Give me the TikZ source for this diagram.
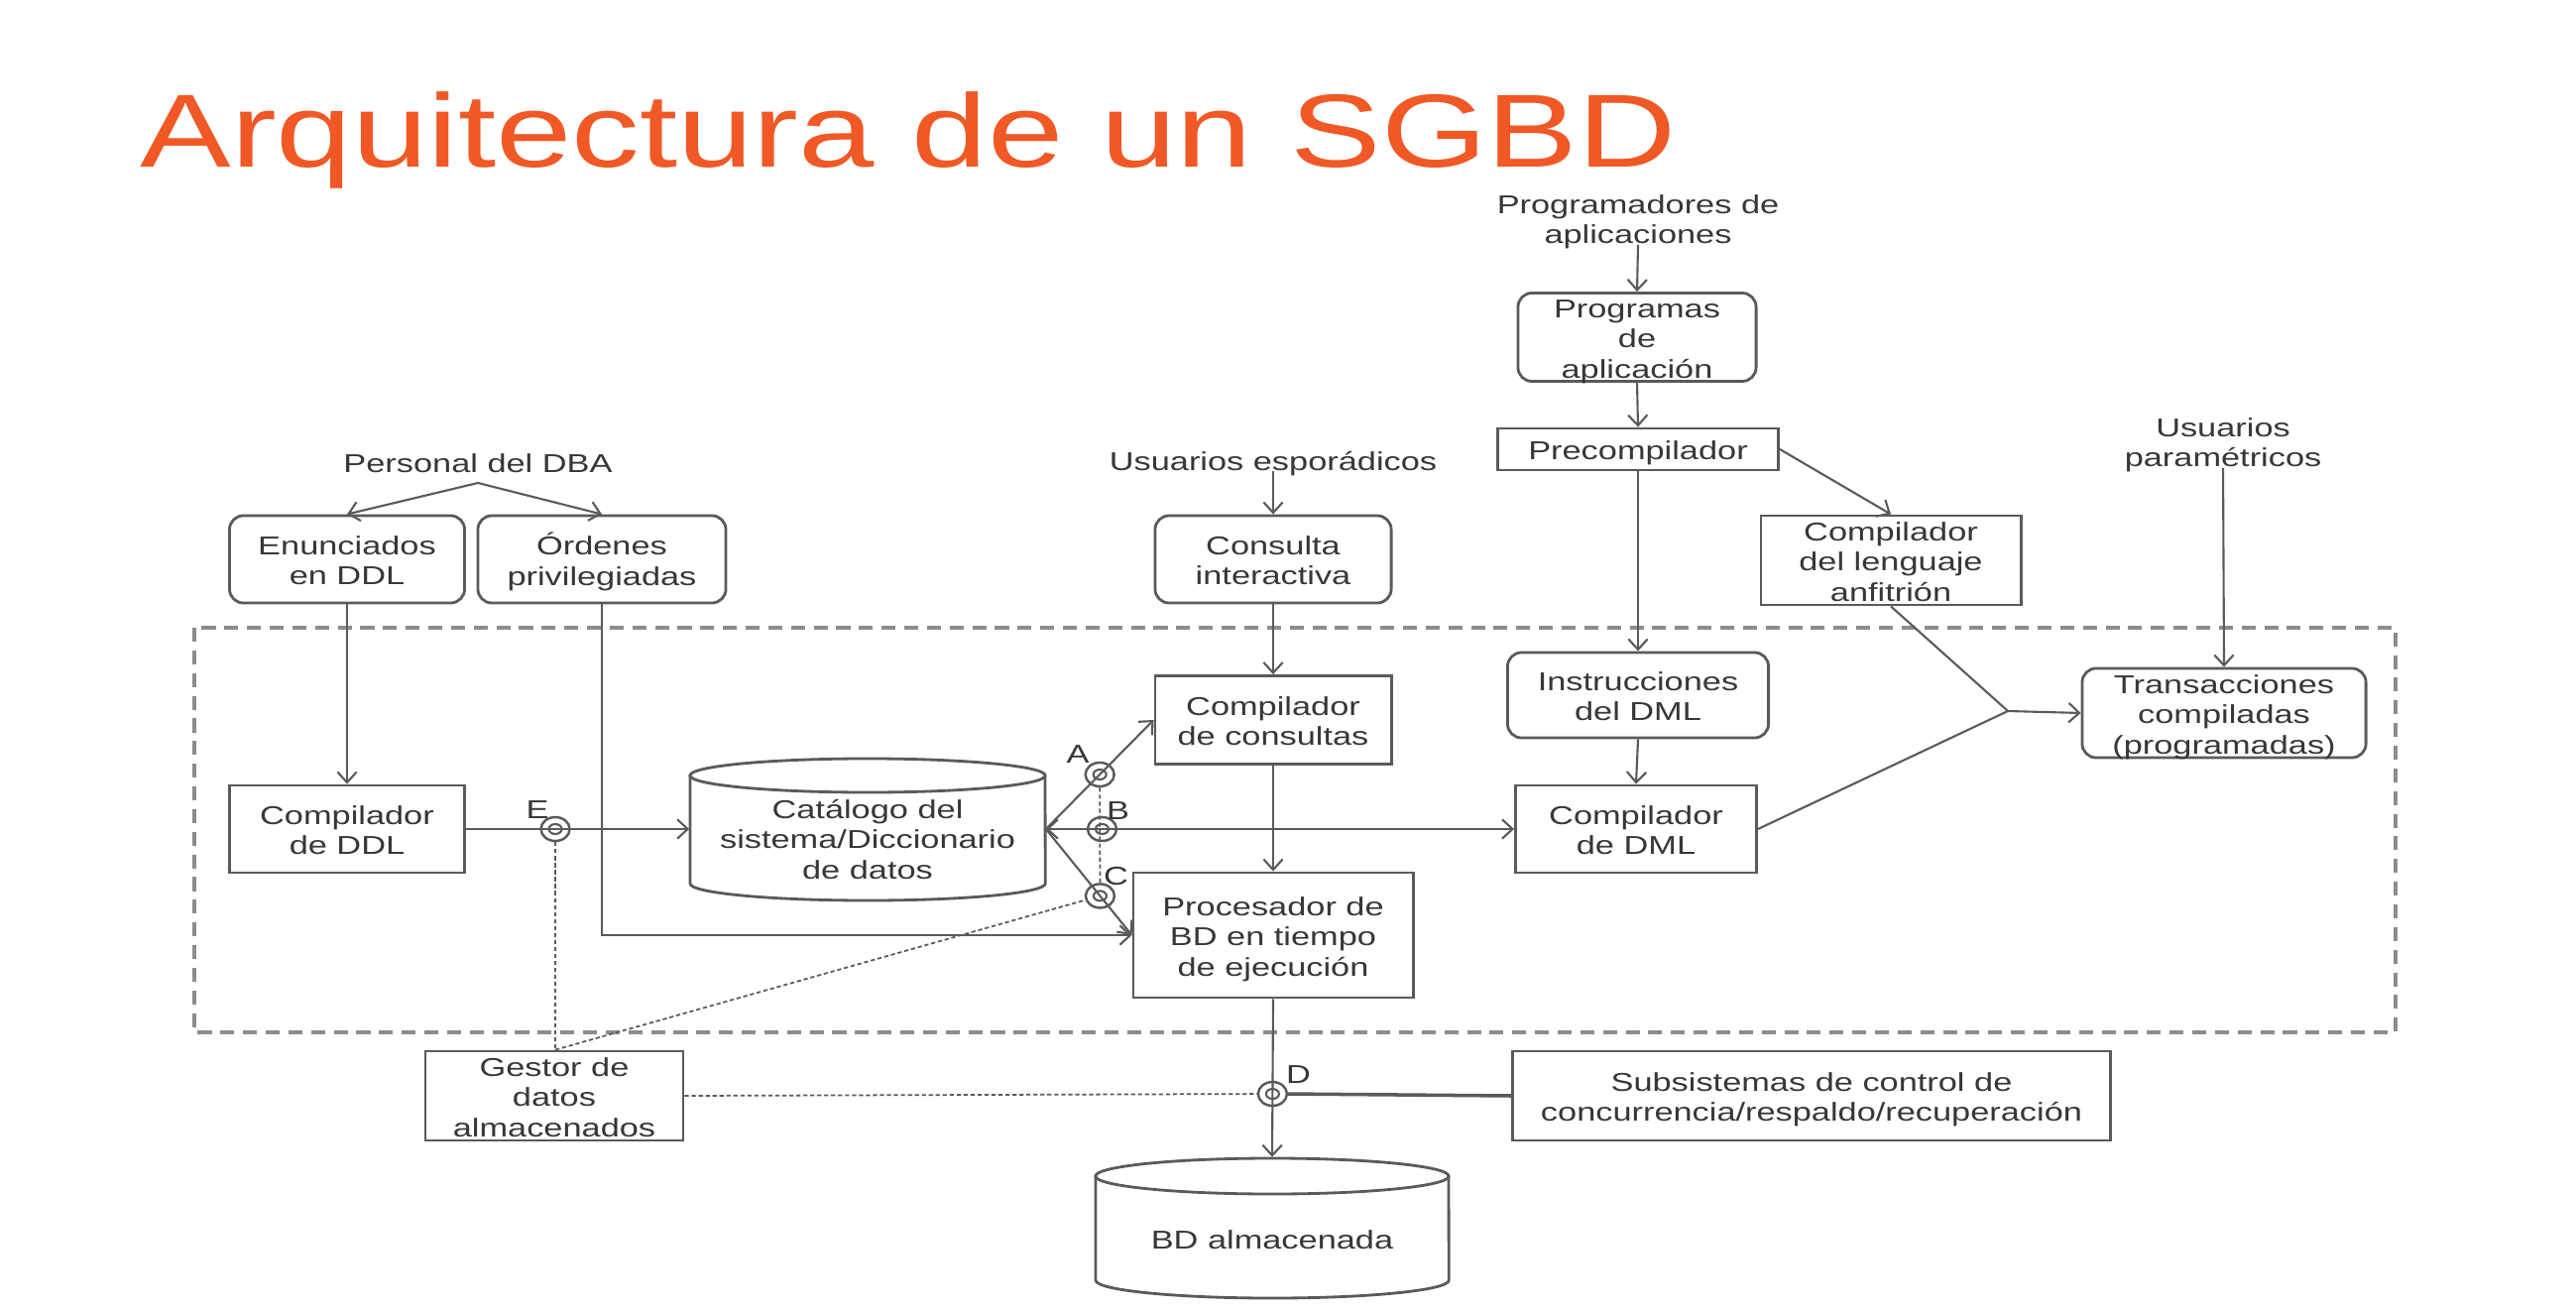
\documentclass[tikz,border=0pt]{standalone}
\usepackage{fontspec}
\setmainfont{Liberation Sans}
\usepackage{graphicx}
\usetikzlibrary{arrows.meta,shapes.geometric,calc}
\definecolor{titlecol}{RGB}{240,88,38}
\definecolor{txtc}{RGB}{55,55,55}
\definecolor{linec}{RGB}{90,90,90}
\definecolor{dashc}{RGB}{140,140,140}
\newcommand\tx[1]{\raisebox{0pt}[\height][\dimexpr\depth-0.09cm\relax]{\scalebox{1.32}[1]{\begin{tabular}{@{}c@{}}#1\end{tabular}}}}
\tikzset{
  every node/.style={font=\fontsize{7.4}{8.7}\selectfont, text=txtc, inner sep=0pt},
  box/.style={draw=linec, line width=0.8pt, rectangle},
  rbox/.style={box, rounded corners=4pt},
  tip/.tip={Straight Barb[length=3pt,width=5.5pt]},
  arr/.style={draw=linec, line width=0.6pt, -tip},
  arrb/.style={draw=linec, line width=0.6pt, tip-tip},
  ln/.style={draw=linec, line width=0.6pt},
  dotl/.style={draw=linec, line width=0.5pt, dash pattern=on 1.2pt off 0.8pt},
  ring/.style={ellipse, draw=linec, line width=0.7pt, minimum width=0.29cm, minimum height=0.24cm},
  cylline/.style={draw=linec, line width=0.8pt},
}
\begin{document}
\begin{tikzpicture}[x=0.01cm,y=-0.01cm]
\useasboundingbox[fill=white] (0,0) rectangle (2598,1322);

% title
\node[anchor=base west, font=\fontsize{29.8}{32}\selectfont, text=titlecol] (title) at (141,169) {\scalebox{1.31}[1]{Arquitectura de un SGBD}};

% dashed frame
\draw[dashc, line width=0.9pt, dash pattern=on 4pt off 2.5pt] (196,633) rectangle (2416,1041);

% nodes
\node (pu) at (1652,220) {\tx{Programadores de\\aplicaciones}};
\node[rbox, minimum width=2.40cm, minimum height=0.89cm] (pa) at (1651,340) {\tx{Programas\\de\\aplicación}};
\node[box, minimum width=2.83cm, minimum height=0.42cm] (pre) at (1652,453) {\tx{Precompilador}};
\node[box, minimum width=2.62cm, minimum height=0.90cm] (cl) at (1907,565) {\tx{Compilador\\del lenguaje\\anfitrión}};
\node (up) at (2242,445) {\tx{Usuarios\\paramétricos}};
\node[rbox, minimum width=2.86cm, minimum height=0.90cm] (tr) at (2243,719) {\tx{Transacciones\\compiladas\\(programadas)}};
\node[rbox, minimum width=2.63cm, minimum height=0.86cm] (ins) at (1652,701) {\tx{Instrucciones\\del DML}};
\node[box, minimum width=2.43cm, minimum height=0.88cm] (dml) at (1650,836) {\tx{Compilador\\de DML}};
\node (ue) at (1284,464) {\tx{Usuarios esporádicos}};
\node[rbox, minimum width=2.38cm, minimum height=0.88cm] (ci) at (1284,564) {\tx{Consulta\\interactiva}};
\node[box, minimum width=2.38cm, minimum height=0.89cm] (cc) at (1284,726) {\tx{Compilador\\de consultas}};
\node[box, minimum width=2.82cm, minimum height=1.26cm] (proc) at (1284,943) {\tx{Procesador de\\BD en tiempo\\de ejecución}};
\node[minimum width=3.58cm, minimum height=1.43cm] (cat) at (875,836) {};
\node (catt) at (875,845) {\tx{Catálogo del\\sistema/Diccionario\\de datos}};
\node[box, minimum width=2.37cm, minimum height=0.88cm] (ddl) at (350,836) {\tx{Compilador\\de DDL}};
\node[rbox, minimum width=2.37cm, minimum height=0.88cm] (enu) at (350,564) {\tx{Enunciados\\en DDL}};
\node[rbox, minimum width=2.50cm, minimum height=0.88cm] (ord) at (607,564) {\tx{Órdenes\\privilegiadas}};
\node (pd) at (482,466) {\tx{Personal del DBA}};
\node[box, minimum width=2.60cm, minimum height=0.90cm] (gest) at (559,1105) {\tx{Gestor de\\datos\\almacenados}};
\node[box, minimum width=6.03cm, minimum height=0.90cm] (subs) at (1827,1105) {\tx{Subsistemas de control de\\concurrencia/respaldo/recuperación}};
\node[minimum width=3.56cm, minimum height=1.41cm] (bd) at (1283,1238) {};
\node (bdt) at (1283,1249) {\tx{BD almacenada}};

% cylinders
\draw[cylline] (696,782) -- (696,891) arc[start angle=180, end angle=360, x radius=1.79cm, y radius=0.17cm] -- (1054,782);
\draw[cylline] (875,782) ellipse [x radius=1.79cm, y radius=0.17cm];
\draw[cylline] (1105,1186) -- (1105,1291) arc[start angle=180, end angle=360, x radius=1.78cm, y radius=0.18cm] -- (1461,1186);
\draw[cylline] (1283,1186) ellipse [x radius=1.78cm, y radius=0.18cm];

% coordinates
\coordinate (ap) at (482,487);
\coordinate (J) at (2025,717);

% rings
\node[ring] (rE) at ($(ddl.east)!0.4!(cat.west)$) {};
\node[ring] (rA) at ($(cat.east)!0.5!(cc.west)$) {};
\node[ring] (rB) at ($(cat.east)!0.12!(dml.west)$) {};
\node[ring] (rC) at ($(cat.east)!0.63!(proc.west)$) {};
\node[ring] (rD) at ($(proc.south)!0.6!(bd.north)$) {};
\foreach \r in {rE,rA,rB,rC,rD}
  \draw[linec, line width=0.6pt] (\r) ellipse [x radius=0.065cm, y radius=0.05cm];

% ring labels
\node (lE) at ($(rE)+(-18,-21)$) {\tx{E}};
\node (lA) at ($(rA)+(-22,-22)$) {\tx{A}};
\node (lB) at ($(rB)+(16,-20)$) {\tx{B}};
\node (lC) at ($(rC)+(16,-22)$) {\tx{C}};
\node (lD) at ($(rD)+(26,-21)$) {\tx{D}};

% connectors
\draw[arr] (pu.south) -- (pa.north);
\draw[arr] (pa.south) -- (pre.north);
\draw[arr] (pre.south) -- (ins.north);
\draw[arr] (pre.east) -- (cl.north);
\draw[ln] (cl.south) -- (J);
\draw[ln] (dml.east) -- (J);
\draw[arr] (J) -- (tr.west);
\draw[arr] (up.south) -- (tr.north);
\draw[arr] (ins.south) -- (dml.north);
\draw[arr] (ue.south) -- (ci.north);
\draw[arr] (ci.south) -- (cc.north);
\draw[arr] (cc.south) -- (proc.north);
\draw[arr] (proc.south) -- (bd.north);
\draw[arrb] (cat.east) -- (dml.west);
\draw[arr] (cat.east) -- (cc.west);
\draw[arr] (cat.east) -- (proc.west);
\draw[arr] (ord.south) |- (proc.west);
\draw[arr] (enu.south) -- (ddl.north);
\draw[arr] (ddl.east) -- (cat.west);
\draw[arr] (ap) -- (enu.north);
\draw[arr] (ap) -- (ord.north);

% dotted links
\draw[dotl] (rE.south) -- (rE.south |- gest.north);
\draw[dotl] (rE.south |- gest.north) -- (rC);
\draw[dotl] (rA) -- (rC);
\draw[dotl] (gest.east) -- (rD);
\draw[linec, line width=1pt] (rD.east) -- (subs.west);
\end{tikzpicture}
\end{document}
